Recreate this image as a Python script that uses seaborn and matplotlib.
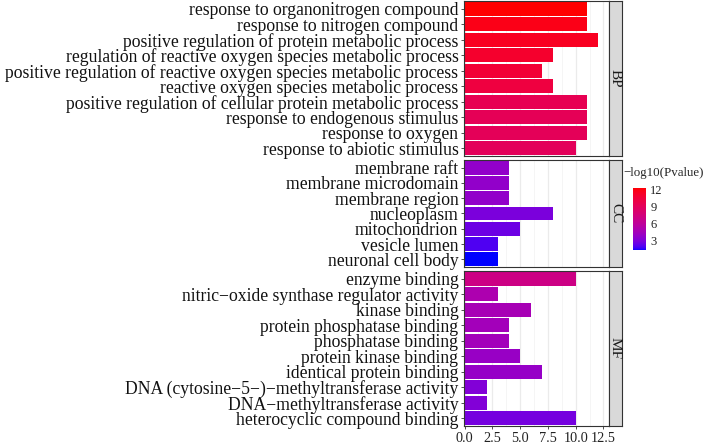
import numpy as np
import pandas as pd
import matplotlib
matplotlib.use("Agg")
import matplotlib.pyplot as plt
import seaborn as sns
from matplotlib.colors import ListedColormap, Normalize
from matplotlib.cm import ScalarMappable

# GO enrichment data
bp_terms = ["response to organonitrogen compound",
            "response to nitrogen compound",
            "positive regulation of protein metabolic process",
            "regulation of reactive oxygen species metabolic process",
            "positive regulation of reactive oxygen species metabolic process",
            "reactive oxygen species metabolic process",
            "positive regulation of cellular protein metabolic process",
            "response to endogenous stimulus",
            "response to oxygen",
            "response to abiotic stimulus"]
bp_count = [11, 11, 12, 8, 7, 8, 11, 11, 11, 10]
bp_logp = [12.2, 11.7, 11.4, 11.0, 10.6, 10.2, 9.4, 9.2, 9.1, 9.0]

cc_terms = ["membrane raft", "membrane microdomain", "membrane region",
            "nucleoplasm", "mitochondrion", "vesicle lumen", "neuronal cell body"]
cc_count = [4, 4, 4, 8, 5, 3, 3]
cc_logp = [3.8, 3.8, 3.8, 3.0, 2.6, 2.0, 1.4]

mf_terms = ["enzyme binding",
            "nitric\u2212oxide synthase regulator activity",
            "kinase binding",
            "protein phosphatase binding",
            "phosphatase binding",
            "protein kinase binding",
            "identical protein binding",
            "DNA (cytosine\u22125\u2212)\u2212methyltransferase activity",
            "DNA\u2212methyltransferase activity",
            "heterocyclic compound binding"]
mf_count = [10, 3, 6, 4, 4, 5, 7, 2, 2, 10]
mf_logp = [7.0, 5.0, 4.7, 4.5, 4.5, 4.0, 3.9, 3.2, 3.2, 2.8]

x_ticks = [0, 2.5, 5, 7.5, 10, 12.5]
cbar_ticks = [3, 6, 9, 12]


# blue -> red gradient interpolated in Lab space (like ggplot's scale_fill_gradient)
def srgb_to_lab(c):
    c = np.asarray(c, float)
    lin = np.where(c <= 0.04045, c / 12.92, ((c + 0.055) / 1.055) ** 2.4)
    m = np.array([[0.4124, 0.3576, 0.1805],
                  [0.2126, 0.7152, 0.0722],
                  [0.0193, 0.1192, 0.9505]])
    xyz = m @ lin / np.array([0.95047, 1.0, 1.08883])
    f = np.where(xyz > 0.008856, np.cbrt(xyz), 7.787 * xyz + 16 / 116)
    return np.array([116 * f[1] - 16, 500 * (f[0] - f[1]), 200 * (f[1] - f[2])])


def lab_to_srgb(lab):
    L, a, b = lab
    fy = (L + 16) / 116
    fx = fy + a / 500
    fz = fy - b / 200
    f = np.array([fx, fy, fz])
    xyz = np.where(f ** 3 > 0.008856, f ** 3, (f - 16 / 116) / 7.787)
    xyz = xyz * np.array([0.95047, 1.0, 1.08883])
    minv = np.array([[3.2406, -1.5372, -0.4986],
                     [-0.9689, 1.8758, 0.0415],
                     [0.0557, -0.2040, 1.0570]])
    lin = np.clip(minv @ xyz, 0, 1)
    c = np.where(lin <= 0.0031308, 12.92 * lin, 1.055 * lin ** (1 / 2.4) - 0.055)
    return np.clip(c, 0, 1)


lab_lo = srgb_to_lab([0, 0, 1])
lab_hi = srgb_to_lab([1, 0, 0])
cmap = ListedColormap([lab_to_srgb(lab_lo + t * (lab_hi - lab_lo))
                       for t in np.linspace(0, 1, 256)])
all_logp = bp_logp + cc_logp + mf_logp
norm = Normalize(min(all_logp), max(all_logp))

sns.set_theme(style="white")
plt.rcParams["font.family"] = ["Liberation Serif", "DejaVu Serif"]

W, H = 704, 444
fig = plt.figure(figsize=(W / 100, H / 100), dpi=100)

left, right = 464, 609
strip_w = 13
panels = [("BP", bp_terms, bp_count, bp_logp, 1, 156),
          ("CC", cc_terms, cc_count, cc_logp, 160, 267),
          ("MF", mf_terms, mf_count, mf_logp, 271, 426)]

for i, (name, terms, counts, logp, top, bot) in enumerate(panels):
    ax = fig.add_axes([left / W, 1 - bot / H, (right - left) / W, (bot - top) / H])
    df = pd.DataFrame({"term": terms, "count": counts})
    colors = [cmap(norm(v)) for v in logp]
    ax.set_axisbelow(True)
    ax.set_xticks(np.arange(1.25, 13, 2.5), minor=True)
    ax.grid(True, which="major", color="#ebebeb", lw=0.9)
    ax.grid(True, which="minor", axis="x", color="#f4f4f4", lw=0.6)
    sns.barplot(data=df, x="count", y="term", hue="term", palette=colors,
                order=terms, hue_order=terms, legend=False, width=0.9,
                saturation=1, ax=ax, edgecolor="none")
    ax.set_xlim(-0.05, 13.0)
    ax.set_ylim(len(terms) - 0.5, -0.5)
    ax.set_xticks(x_ticks)
    ax.set_xlabel("")
    ax.set_ylabel("")
    ax.tick_params(axis="y", labelsize=12.7, length=2.5, width=0.6,
                   color="#333333", left=True, pad=1.5, labelcolor="#111111")
    ax.tick_params(axis="x", which="both", bottom=False)
    if i == 2:
        ax.set_xticklabels(["0.0", "2.5", "5.0", "7.5", "10.0", "12.5"])
        ax.tick_params(axis="x", which="major", bottom=True, labelsize=10.3,
                       length=2.5, width=0.6, color="#333333", pad=1.5,
                       labelcolor="#222222")
    else:
        ax.set_xticklabels([])
    for s in ax.spines.values():
        s.set_color("#333333")
        s.set_linewidth(0.8)

    # facet strip on the right
    sax = fig.add_axes([right / W, 1 - bot / H, strip_w / W, (bot - top) / H])
    sax.set_facecolor("#d9d9d9")
    sax.set_xticks([])
    sax.set_yticks([])
    for s in sax.spines.values():
        s.set_color("#333333")
        s.set_linewidth(0.8)
    sax.text(0.5, 0.5, name, rotation=-90, ha="center", va="center",
             fontsize=11, color="#1a1a1a", transform=sax.transAxes)

# colour bar legend
cax = fig.add_axes([633 / W, 1 - 250 / H, 13 / W, 62 / H])
cb = fig.colorbar(ScalarMappable(norm=norm, cmap=cmap), cax=cax, ticks=cbar_ticks)
cb.outline.set_visible(False)
cax.tick_params(labelsize=9, length=3, width=0.6, color="white", direction="in",
                pad=3)
for t in cax.get_yticklabels():
    t.set_color("#222222")
fig.text(623 / W, 1 - 173 / H, "\u2212log10(Pvalue)", fontsize=9.3,
         ha="left", va="center")

fig.savefig("out.png", dpi=100)
